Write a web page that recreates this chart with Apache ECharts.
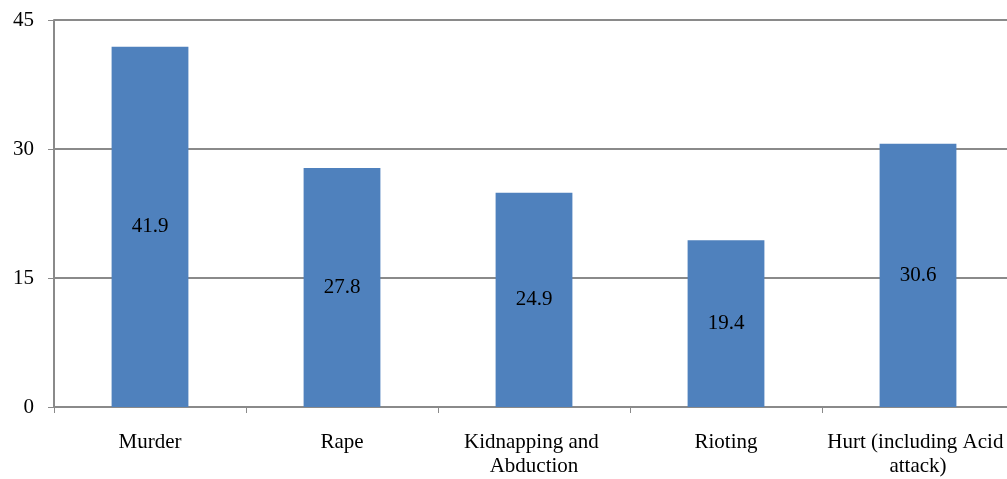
<!DOCTYPE html>
<html>
<head>
<meta charset="utf-8">
<script src="https://cdn.jsdelivr.net/npm/echarts@6/dist/echarts.min.js"></script>
<style>
  html, body { margin: 0; padding: 0; background: #fff; overflow: hidden; }
  #chart { width: 1007px; height: 479px; }
</style>
</head>
<body>
<div id="chart"></div>
<script>
// Crime categories and their values
const categories = ['Murder', 'Rape', 'Kidnapping and Abduction', 'Rioting', 'Hurt (including Acid attack)'];
const values = [41.9, 27.8, 24.9, 19.4, 30.6];
const yTicks = { min: 0, max: 45, interval: 15 };

const serif = '"Liberation Serif", "Times New Roman", serif';
const gray = '#8a8a8a';

const chart = echarts.init(document.getElementById('chart'), null, { renderer: 'canvas' });
chart.setOption({
  animation: false,
  // plot area runs slightly past the right edge of the canvas
  grid: { left: 54, width: 960, top: 20, bottom: 72, containLabel: false, outerBoundsMode: 'none' },
  xAxis: {
    type: 'category',
    data: categories,
    boundaryGap: true,
    axisLine: { show: true, lineStyle: { color: gray, width: 2 } },
    axisTick: { show: true, length: 6, alignWithLabel: false, interval: 0, lineStyle: { color: gray, width: 1 } },
    axisLabel: {
      interval: 0,
      margin: 23,
      color: '#000',
      fontFamily: serif,
      fontSize: 21,
      lineHeight: 24,
      width: 190,
      overflow: 'break'
    },
    splitLine: { show: false }
  },
  yAxis: {
    type: 'value',
    min: yTicks.min,
    max: yTicks.max,
    interval: yTicks.interval,
    axisLine: { show: true, lineStyle: { color: gray, width: 2 } },
    axisTick: { show: true, length: 6, lineStyle: { color: gray, width: 1 } },
    axisLabel: { margin: 20, color: '#000', fontFamily: serif, fontSize: 21 },
    splitLine: { show: true, lineStyle: { color: gray, width: 2 } }
  },
  series: [{
    type: 'bar',
    data: values,
    barWidth: '40%',
    itemStyle: { color: '#4f81bd' },
    label: {
      show: true,
      position: 'inside',
      color: '#000',
      fontFamily: serif,
      fontSize: 21
    }
  }]
});
</script>
</body>
</html>
